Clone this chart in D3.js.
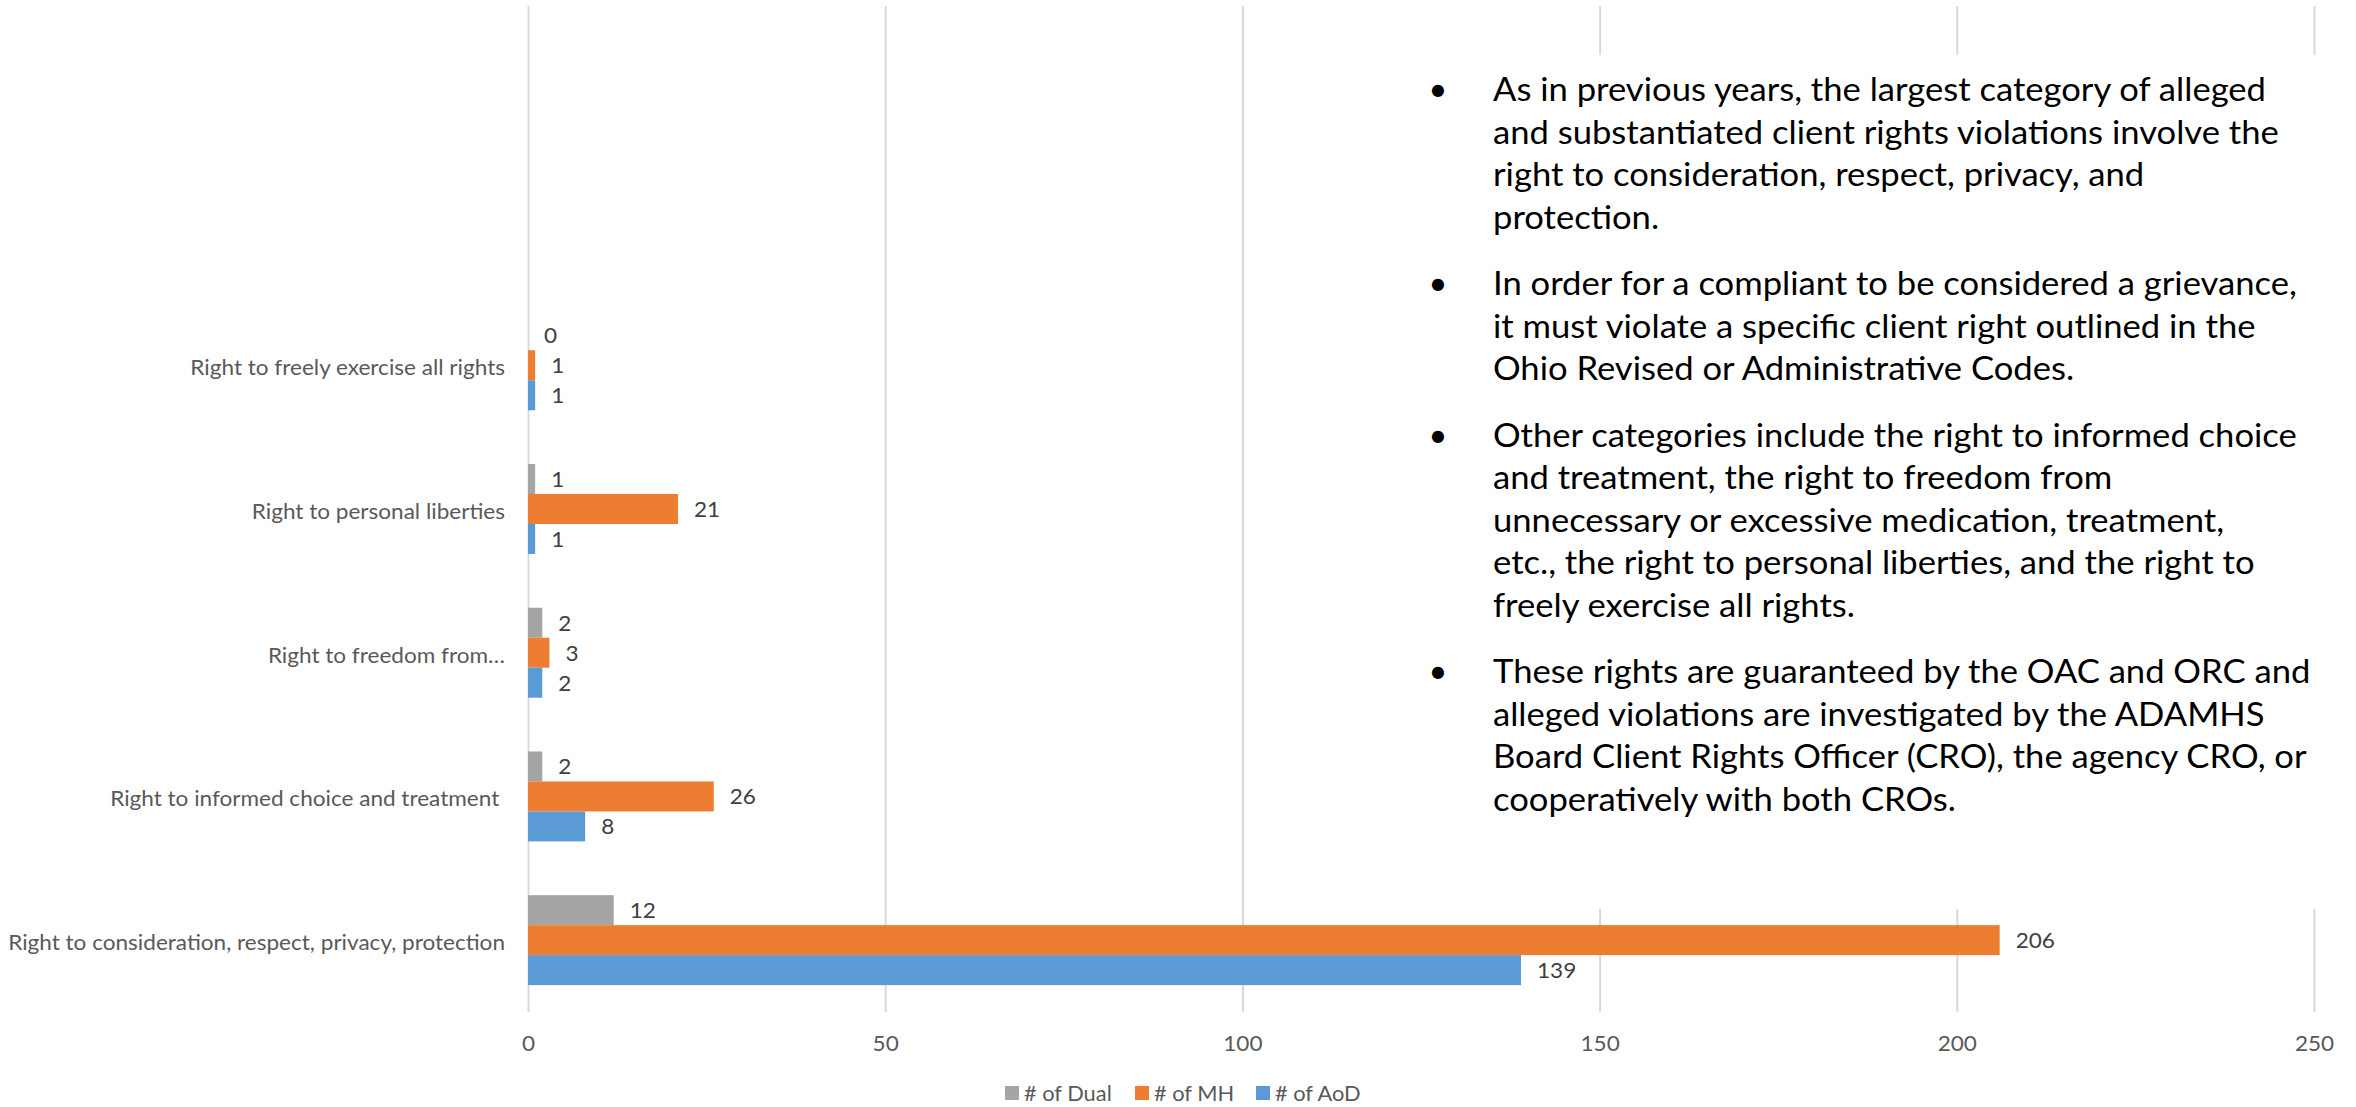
<!DOCTYPE html>
<html><head><meta charset="utf-8">
<script src="https://cdn.jsdelivr.net/npm/d3@7"></script>
<style>
html,body{margin:0;padding:0;background:#fff;}
svg{display:block;}
text{font-family:Lato, "Open Sans", sans-serif;}
</style></head>
<body>
<svg id="chart" width="2356" height="1107"></svg>
<script>
// ---- data ----
const categories = ["", "", "Right to freely exercise all rights", "Right to personal liberties", "Right to freedom from…", "Right to informed choice and treatment ", "Right to consideration, respect, privacy, protection"];
const seriesNames = ["# of Dual", "# of MH", "# of AoD"];
const dualValues = [null, null, 0, 1, 2, 2, 12];
const mhValues   = [null, null, 1, 21, 3, 26, 206];
const aodValues  = [null, null, 1, 1, 2, 8, 139];
const tickValues = [0, 50, 100, 150, 200, 250];
const seriesColors = ["#A5A5A5", "#ED7D31", "#5B9BD5"];
const bullets = [
  ["As in previous years, the largest category of alleged", "and substantiated client rights violations involve the", "right to consideration, respect, privacy, and", "protection."],
  ["In order for a compliant to be considered a grievance,", "it must violate a specific client right outlined in the", "Ohio Revised or Administrative Codes."],
  ["Other categories include the right to informed choice", "and treatment, the right to freedom from", "unnecessary or excessive medication, treatment,", "etc., the right to personal liberties, and the right to", "freely exercise all rights."],
  ["These rights are guaranteed by the OAC and ORC and", "alleged violations are investigated by the ADAMHS", "Board Client Rights Officer (CRO), the agency CRO, or", "cooperatively with both CROs."]
];

const svg = d3.select("#chart");
const plotTop = 6, plotBottom = 1012, x0 = 528, x1 = 2314;
const CHART_FS = 21.2, BODY_FS = 32.5;

// width calibration (Calibri-like widths)
const probe = svg.append("text").attr("font-size", BODY_FS).text(bullets[0][0]);
const factor = 773 / probe.node().getComputedTextLength();
probe.remove();
function fit(sel) {
  sel.each(function() {
    const w = this.getComputedTextLength();
    if (w > 0) d3.select(this).attr("textLength", w * factor).attr("lengthAdjust", "spacingAndGlyphs");
  });
}

const x = d3.scaleLinear().domain([0, 250]).range([x0, x1]);
const idx = d3.range(categories.length);
const y = d3.scaleBand().domain(idx).range([plotTop, plotBottom]).paddingInner(0.374).paddingOuter(0.187);
const ySub = d3.scaleBand().domain([0, 1, 2]).range([0, y.bandwidth()]);

// gridlines
const grid = svg.append("g").attr("transform", `translate(0,${plotBottom})`)
  .call(d3.axisBottom(x).tickValues(tickValues).tickSize(-(plotBottom - plotTop)).tickFormat(""));
grid.select(".domain").remove();
grid.selectAll("line").attr("stroke", "#d9d9d9").attr("stroke-width", 2);

// white text box covering the gridlines
svg.append("rect").attr("x", 1400).attr("y", 55).attr("width", 956).attr("height", 854).attr("fill", "#fff");

// bars
const series = [dualValues, mhValues, aodValues];
const rows = [];
series.forEach((vals, s) => vals.forEach((v, i) => { if (v !== null) rows.push({s, i, v}); }));
svg.append("g").selectAll("rect").data(rows).join("rect")
  .attr("x", x(0))
  .attr("y", d => y(d.i) + ySub(d.s))
  .attr("width", d => x(d.v) - x(0))
  .attr("height", ySub.bandwidth())
  .attr("fill", d => seriesColors[d.s]);

// data labels
const dl = svg.append("g").selectAll("text").data(rows).join("text")
  .attr("x", d => x(d.v) + 16)
  .attr("y", d => y(d.i) + ySub(d.s) + ySub.bandwidth() / 2)
  .attr("dominant-baseline", "central")
  .attr("font-size", CHART_FS)
  .attr("fill", "#404040")
  .text(d => d.v);
fit(dl);

// category labels
const cl = svg.append("g").selectAll("text").data(idx.filter(i => categories[i] !== "")).join("text")
  .attr("x", 505)
  .attr("y", i => y(i) + y.bandwidth() / 2 + 2)
  .attr("text-anchor", "end")
  .attr("dominant-baseline", "central")
  .attr("font-size", CHART_FS)
  .attr("fill", "#595959")
  .style("white-space", "pre")
  .text(i => categories[i].replace(/ $/, "\u00a0"));
fit(cl);

// x tick labels
const xa = svg.append("g").attr("transform", "translate(0,1043)")
  .call(d3.axisBottom(x).tickValues(tickValues).tickSize(0).tickPadding(0));
xa.select(".domain").remove();
xa.selectAll("text").attr("font-size", CHART_FS).attr("fill", "#595959")
  .attr("font-family", "Lato, 'Open Sans', sans-serif")
  .attr("dy", null).attr("y", 0).attr("dominant-baseline", "central");
fit(xa.selectAll("text"));

// legend
const legendX = [1005, 1135, 1256];
const lg = svg.append("g").selectAll("g").data(seriesNames).join("g")
  .attr("transform", (d, i) => `translate(${legendX[i]},1086)`);
lg.append("rect").attr("width", 14).attr("height", 14).attr("fill", (d, i) => seriesColors[i]);
const lt = lg.append("text").attr("x", 19).attr("y", 7).attr("dominant-baseline", "central")
  .attr("font-size", CHART_FS - 0.7).attr("fill", "#595959").text(d => d);
fit(lt);

// bullet text
const tb = svg.append("g");
let base = 101;
bullets.forEach(par => {
  tb.append("text").attr("x", 1438).attr("y", base).attr("text-anchor", "middle")
    .attr("font-size", BODY_FS).attr("fill", "#000").text("•");
  par.forEach((line, j) => {
    const t = tb.append("text").attr("x", 1493).attr("y", base).attr("font-size", BODY_FS)
      .attr("fill", "#000").text(line);
    fit(t);
    base += 42.5;
  });
  base += 24;
});
</script>
</body></html>
